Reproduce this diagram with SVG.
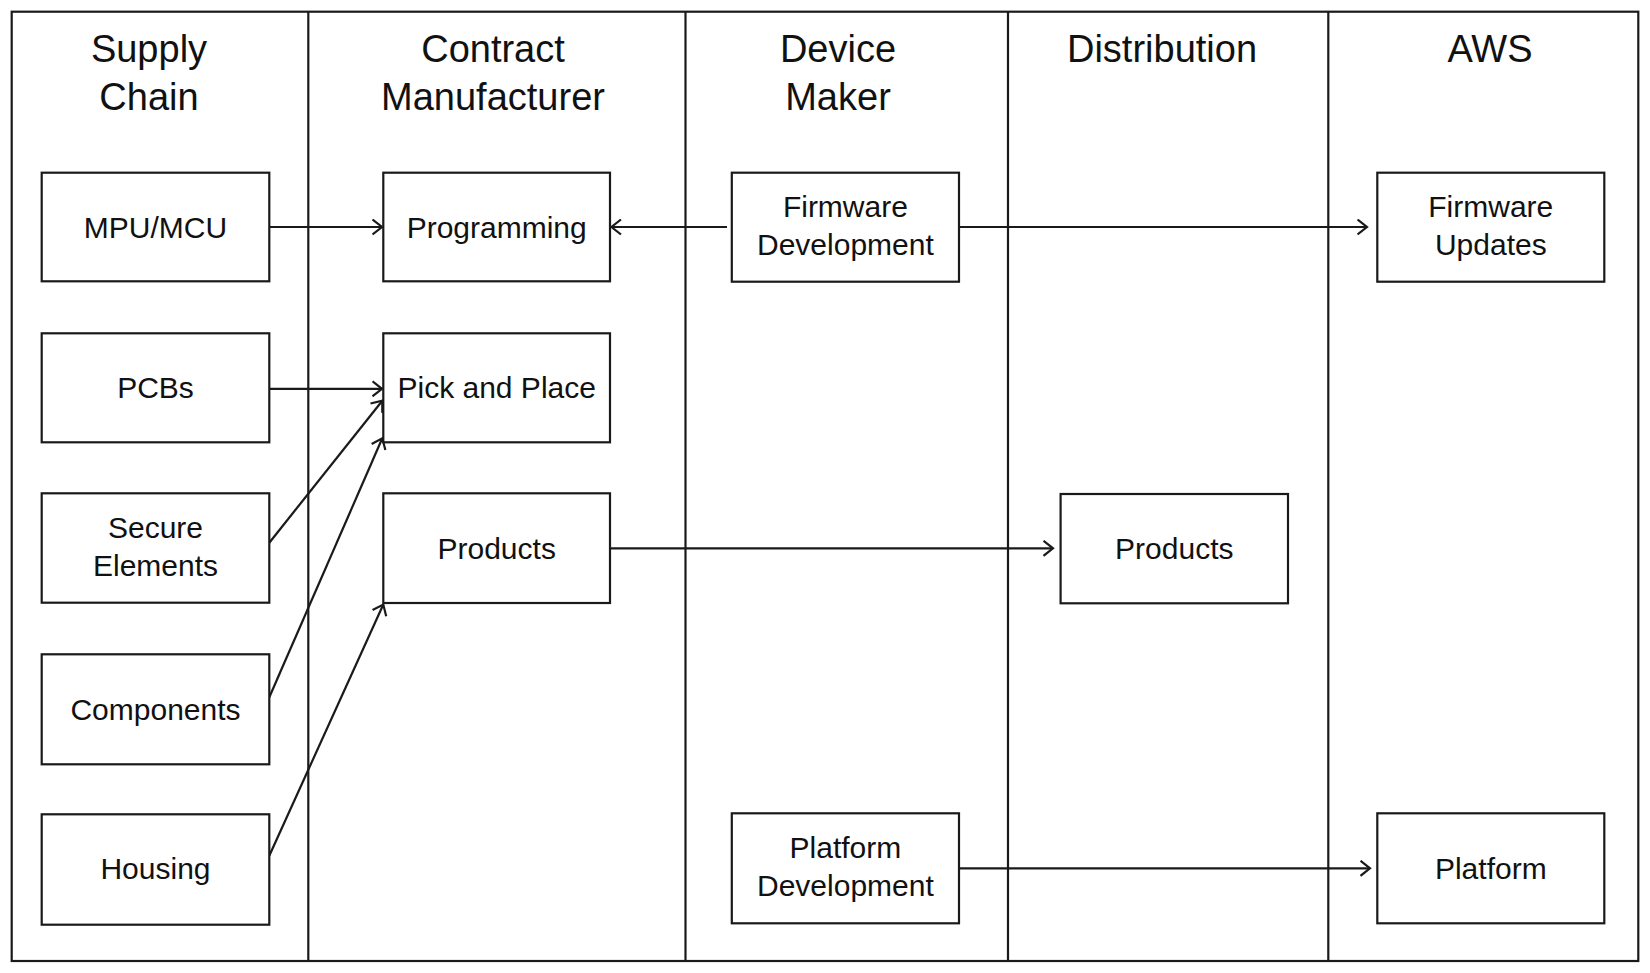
<svg xmlns="http://www.w3.org/2000/svg" width="1650" height="973" viewBox="0 0 1650 973">
<style>
.frame{fill:none;stroke:#1a1a1a;stroke-width:2.2}
.box{fill:#fff;stroke:#1a1a1a;stroke-width:2.2}
.hdr{font-family:"Liberation Sans",Arial,sans-serif;font-size:38px;fill:#111;text-anchor:middle}
.lbl{font-family:"Liberation Sans",Arial,sans-serif;font-size:30px;fill:#111;text-anchor:middle}
.conn{fill:none;stroke:#1a1a1a;stroke-width:2.2;marker-end:url(#arr)}
</style>
<defs>
<marker id="arr" markerUnits="userSpaceOnUse" viewBox="-1 -1 12 17" markerWidth="12" markerHeight="17" refX="9.5" refY="7.5" orient="auto">
<path d="M0,0 L9.5,7.5 L0,15" fill="none" stroke="#1a1a1a" stroke-width="2.2"/>
</marker>
</defs>
<rect width="1650" height="973" fill="#fff"/>
<g id="lanes">
<rect class="frame" x="11.7" y="11.7" width="1626.6" height="949.3"/>
<line class="frame" x1="308.3" y1="11.7" x2="308.3" y2="961"/>
<line class="frame" x1="685.5" y1="11.7" x2="685.5" y2="961"/>
<line class="frame" x1="1008" y1="11.7" x2="1008" y2="961"/>
<line class="frame" x1="1328.3" y1="11.7" x2="1328.3" y2="961"/>
<text class="hdr" x="149" y="61.7">Supply</text>
<text class="hdr" x="149" y="110">Chain</text>
<text class="hdr" x="493" y="61.7">Contract</text>
<text class="hdr" x="493" y="110">Manufacturer</text>
<text class="hdr" x="838" y="61.7">Device</text>
<text class="hdr" x="838" y="110">Maker</text>
<text class="hdr" x="1162" y="61.7">Distribution</text>
<text class="hdr" x="1490" y="61.7">AWS</text>
</g>
<g id="connectors">
<line class="conn" x1="269.3" y1="227" x2="382" y2="227"/>
<line class="conn" x1="727" y1="227" x2="611.5" y2="227"/>
<line class="conn" x1="959" y1="227" x2="1367" y2="227"/>
<line class="conn" x1="269.3" y1="388.8" x2="382" y2="388.8"/>
<line class="conn" x1="269.3" y1="542.7" x2="382.3" y2="400.7"/>
<line class="conn" x1="269.3" y1="697.3" x2="382.3" y2="438.3"/>
<line class="conn" x1="269.3" y1="855.7" x2="383.3" y2="604.5"/>
<line class="conn" x1="610" y1="548.3" x2="1053" y2="548.3"/>
<line class="conn" x1="960" y1="868.3" x2="1370" y2="868.3"/>
</g>
<g id="mpu"><rect class="box" x="41.7" y="172.7" width="227.6" height="108.6"/><text class="lbl" x="155.5" y="237.5">MPU/MCU</text></g>
<g id="pcbs"><rect class="box" x="41.7" y="333.3" width="227.6" height="109"/><text class="lbl" x="155.5" y="398.3">PCBs</text></g>
<g id="secure"><rect class="box" x="41.7" y="493.3" width="227.6" height="109.4"/><text class="lbl" x="155.5" y="537.7">Secure</text><text class="lbl" x="155.5" y="576">Elements</text></g>
<g id="components"><rect class="box" x="41.7" y="654.3" width="227.6" height="110"/><text class="lbl" x="155.5" y="719.5">Components</text></g>
<g id="housing"><rect class="box" x="41.7" y="814.3" width="227.6" height="110.4"/><text class="lbl" x="155.5" y="879.4">Housing</text></g>
<g id="programming"><rect class="box" x="383.3" y="172.7" width="226.7" height="108.6"/><text class="lbl" x="496.7" y="237.5">Programming</text></g>
<g id="pickplace"><rect class="box" x="383.3" y="333.3" width="226.7" height="109"/><text class="lbl" x="496.7" y="398.3">Pick and Place</text></g>
<g id="cm-products"><rect class="box" x="383.3" y="493.3" width="226.7" height="109.7"/><text class="lbl" x="496.7" y="558.6">Products</text></g>
<g id="firmware-dev"><rect class="box" x="731.8" y="172.7" width="227.2" height="109"/><text class="lbl" x="845.4" y="216.7">Firmware</text><text class="lbl" x="845.4" y="255">Development</text></g>
<g id="platform-dev"><rect class="box" x="731.8" y="813.3" width="227.2" height="110"/><text class="lbl" x="845.4" y="858">Platform</text><text class="lbl" x="845.4" y="896.3">Development</text></g>
<g id="dist-products"><rect class="box" x="1060.6" y="494" width="227.4" height="109.3"/><text class="lbl" x="1174.3" y="558.8">Products</text></g>
<g id="firmware-updates"><rect class="box" x="1377.3" y="172.7" width="227" height="109"/><text class="lbl" x="1490.8" y="216.7">Firmware</text><text class="lbl" x="1490.8" y="255">Updates</text></g>
<g id="platform"><rect class="box" x="1377.3" y="813.3" width="227" height="110"/><text class="lbl" x="1490.8" y="878.8">Platform</text></g>
</svg>
